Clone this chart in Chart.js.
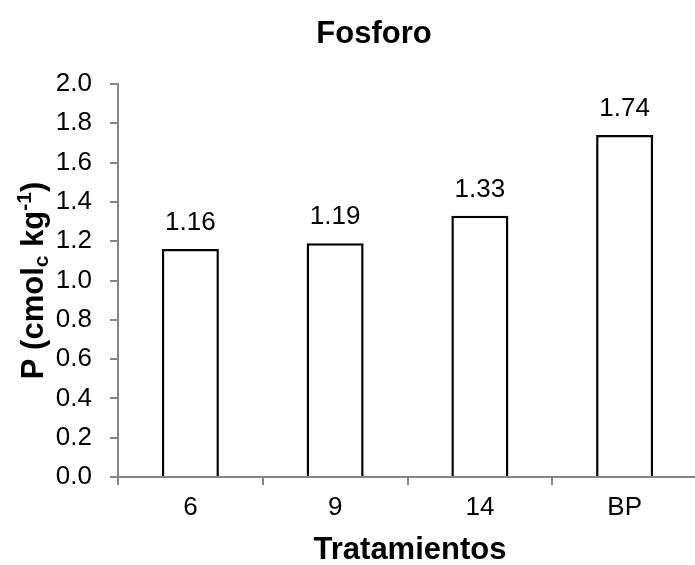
<!DOCTYPE html>
<html><head><meta charset="utf-8">
<script src="https://cdn.jsdelivr.net/npm/chart.js@4"></script>
<style>html,body{margin:0;padding:0;background:#fff;overflow:hidden}</style>
</head><body>
<canvas id="c" width="700" height="565" style="display:block;width:700px;height:565px"></canvas>
<script>
const categories = ['6', '9', '14', 'BP'];
const phosphorus = [1.16, 1.19, 1.33, 1.74];
const yMin = 0, yMax = 2.0, yStep = 0.2;
const chartTitle = 'Fosforo';
const xTitle = 'Tratamientos';
const yTitleParts = [
  {t: 'P (cmol', k: 'n'},
  {t: 'c', k: 'sub'},
  {t: ' kg', k: 'n'},
  {t: '-1', k: 'sup'},
  {t: ')', k: 'n'}
];

const FONT = '"Liberation Sans", Arial, sans-serif';
const AXIS = '#868686';

const textPlugin = {
  id: 'texts',
  afterDraw(chart) {
    const ctx = chart.ctx;
    const area = chart.chartArea;
    ctx.save();
    ctx.fillStyle = '#000';
    ctx.font = 'bold 31px ' + FONT;
    ctx.textAlign = 'center';
    ctx.textBaseline = 'alphabetic';
    ctx.fillText(chartTitle, 374, 43);
    ctx.fillText(xTitle, 410, 559);
    const big = 31, small = 21;
    const widths = yTitleParts.map(p => {
      ctx.font = 'bold ' + (p.k === 'n' ? big : small) + 'px ' + FONT;
      return ctx.measureText(p.t).width;
    });
    const total = widths.reduce((a, b) => a + b, 0);
    ctx.translate(43, (area.top + area.bottom) / 2);
    ctx.rotate(-Math.PI / 2);
    ctx.textAlign = 'left';
    let x = -total / 2;
    yTitleParts.forEach((p, i) => {
      ctx.font = 'bold ' + (p.k === 'n' ? big : small) + 'px ' + FONT;
      const dy = p.k === 'sub' ? 5 : (p.k === 'sup' ? -12 : 0);
      ctx.fillText(p.t, x, dy);
      x += widths[i];
    });
    ctx.restore();
  },
  afterDatasetsDraw(chart) {
    const ctx = chart.ctx;
    ctx.save();
    ctx.fillStyle = '#000';
    ctx.font = '26px ' + FONT;
    ctx.textAlign = 'center';
    ctx.textBaseline = 'alphabetic';
    const meta = chart.getDatasetMeta(0);
    meta.data.forEach((bar, i) => {
      ctx.fillText(phosphorus[i].toFixed(2), bar.x, bar.y - 19);
    });
    ctx.restore();
  }
};

new Chart(document.getElementById('c'), {
  type: 'bar',
  data: {
    labels: categories,
    datasets: [{
      data: phosphorus,
      backgroundColor: '#ffffff',
      borderColor: '#000000',
      borderWidth: 2.5,
      barPercentage: 0.394,
      categoryPercentage: 1.0
    }]
  },
  options: {
    responsive: false,
    devicePixelRatio: 1,
    animation: false,
    layout: {padding: {top: 84, right: 3, left: 0, bottom: 0}},
    plugins: {legend: {display: false}, title: {display: false}, tooltip: {enabled: false}},
    scales: {
      x: {
        grid: {display: true, drawOnChartArea: false, drawTicks: true, tickLength: 8, color: AXIS, lineWidth: 2, offset: true},
        border: {display: true, color: AXIS, width: 2},
        ticks: {color: '#000', font: {family: FONT, size: 26}, padding: 7, maxRotation: 0},
        afterFit(s) { s.height = 88; }
      },
      y: {
        min: yMin, max: yMax,
        grid: {display: true, drawOnChartArea: false, drawTicks: true, tickLength: 8, color: AXIS, lineWidth: 2},
        border: {display: true, color: AXIS, width: 2},
        ticks: {stepSize: yStep, color: '#000', font: {family: FONT, size: 26}, padding: 18,
          callback: v => Number(v).toFixed(1)},
        afterFit(s) { s.width = 118; }
      }
    }
  },
  plugins: [textPlugin]
});
</script>
</body></html>
